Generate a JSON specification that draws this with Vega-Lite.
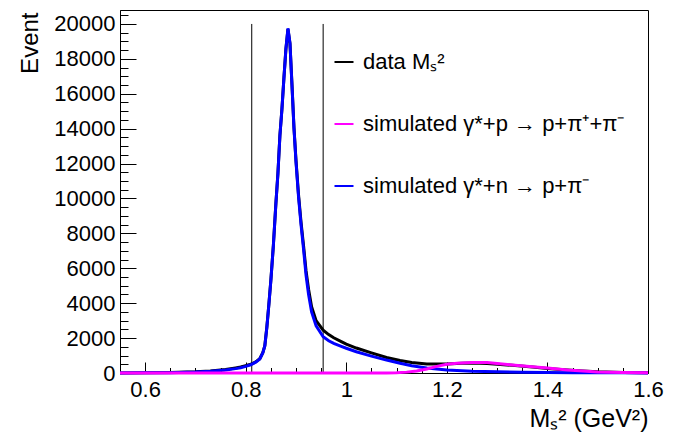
{
  "$schema": "https://vega.github.io/schema/vega-lite/v6.json",
  "width": 528,
  "height": 363,
  "autosize": {"type": "none"},
  "padding": {"left": 120, "top": 10, "right": 42, "bottom": 59},
  "background": "white",
  "config": {
    "view": {"stroke": "black", "strokeWidth": 1},
    "font": "Liberation Sans",
    "axis": {"grid": false, "domainColor": "black", "tickColor": "black", "labelColor": "black", "titleColor": "black", "labelFont": "Liberation Sans", "titleFont": "Liberation Sans", "titleFontWeight": "normal", "labelFlush": false, "labelOverlap": false, "labelBound": false}
  },
  "datasets": {
    "curves": [
      {"s": "data", "x": 0.55, "y": 3}, {"s": "data", "x": 0.6, "y": 10}, {"s": "data", "x": 0.65, "y": 25}, {"s": "data", "x": 0.7, "y": 70},
      {"s": "data", "x": 0.73, "y": 120}, {"s": "data", "x": 0.76, "y": 200}, {"s": "data", "x": 0.78, "y": 290}, {"s": "data", "x": 0.79, "y": 340},
      {"s": "data", "x": 0.8, "y": 420}, {"s": "data", "x": 0.81, "y": 500}, {"s": "data", "x": 0.82, "y": 640}, {"s": "data", "x": 0.828, "y": 820},
      {"s": "data", "x": 0.834, "y": 1170}, {"s": "data", "x": 0.838, "y": 1570}, {"s": "data", "x": 0.842, "y": 2620}, {"s": "data", "x": 0.846, "y": 3920},
      {"s": "data", "x": 0.85, "y": 5320}, {"s": "data", "x": 0.855, "y": 7320}, {"s": "data", "x": 0.86, "y": 9720}, {"s": "data", "x": 0.864, "y": 11420},
      {"s": "data", "x": 0.868, "y": 13620}, {"s": "data", "x": 0.872, "y": 15120}, {"s": "data", "x": 0.876, "y": 16920}, {"s": "data", "x": 0.88, "y": 18580},
      {"s": "data", "x": 0.884, "y": 19700}, {"s": "data", "x": 0.888, "y": 18880}, {"s": "data", "x": 0.892, "y": 16520}, {"s": "data", "x": 0.896, "y": 14050},
      {"s": "data", "x": 0.9, "y": 12180}, {"s": "data", "x": 0.905, "y": 10220}, {"s": "data", "x": 0.91, "y": 8650}, {"s": "data", "x": 0.915, "y": 7300},
      {"s": "data", "x": 0.92, "y": 5850}, {"s": "data", "x": 0.925, "y": 4800}, {"s": "data", "x": 0.931, "y": 3800}, {"s": "data", "x": 0.94, "y": 3000},
      {"s": "data", "x": 0.954, "y": 2450}, {"s": "data", "x": 0.965, "y": 2200}, {"s": "data", "x": 0.975, "y": 2020}, {"s": "data", "x": 0.99, "y": 1800},
      {"s": "data", "x": 1.0, "y": 1650}, {"s": "data", "x": 1.02, "y": 1430}, {"s": "data", "x": 1.05, "y": 1150}, {"s": "data", "x": 1.08, "y": 890},
      {"s": "data", "x": 1.107, "y": 720}, {"s": "data", "x": 1.13, "y": 600}, {"s": "data", "x": 1.16, "y": 515}, {"s": "data", "x": 1.2, "y": 520},
      {"s": "data", "x": 1.23, "y": 560}, {"s": "data", "x": 1.25, "y": 570}, {"s": "data", "x": 1.28, "y": 540}, {"s": "data", "x": 1.3, "y": 500},
      {"s": "data", "x": 1.33, "y": 440}, {"s": "data", "x": 1.37, "y": 340}, {"s": "data", "x": 1.4, "y": 260}, {"s": "data", "x": 1.44, "y": 170},
      {"s": "data", "x": 1.47, "y": 110}, {"s": "data", "x": 1.5, "y": 65}, {"s": "data", "x": 1.55, "y": 30}, {"s": "data", "x": 1.6, "y": 15},

      {"s": "simn", "x": 0.55, "y": 2}, {"s": "simn", "x": 0.6, "y": 8}, {"s": "simn", "x": 0.65, "y": 20}, {"s": "simn", "x": 0.7, "y": 55},
      {"s": "simn", "x": 0.73, "y": 100}, {"s": "simn", "x": 0.76, "y": 170}, {"s": "simn", "x": 0.78, "y": 250}, {"s": "simn", "x": 0.79, "y": 300},
      {"s": "simn", "x": 0.8, "y": 380}, {"s": "simn", "x": 0.81, "y": 470}, {"s": "simn", "x": 0.82, "y": 620}, {"s": "simn", "x": 0.828, "y": 800},
      {"s": "simn", "x": 0.834, "y": 1150}, {"s": "simn", "x": 0.838, "y": 1550}, {"s": "simn", "x": 0.842, "y": 2600}, {"s": "simn", "x": 0.846, "y": 3900},
      {"s": "simn", "x": 0.85, "y": 5300}, {"s": "simn", "x": 0.855, "y": 7300}, {"s": "simn", "x": 0.86, "y": 9700}, {"s": "simn", "x": 0.864, "y": 11400},
      {"s": "simn", "x": 0.868, "y": 13600}, {"s": "simn", "x": 0.872, "y": 15100}, {"s": "simn", "x": 0.876, "y": 16900}, {"s": "simn", "x": 0.88, "y": 18600},
      {"s": "simn", "x": 0.884, "y": 19750}, {"s": "simn", "x": 0.888, "y": 18900}, {"s": "simn", "x": 0.892, "y": 16500}, {"s": "simn", "x": 0.896, "y": 14000},
      {"s": "simn", "x": 0.9, "y": 12100}, {"s": "simn", "x": 0.905, "y": 10100}, {"s": "simn", "x": 0.91, "y": 8500}, {"s": "simn", "x": 0.915, "y": 7100},
      {"s": "simn", "x": 0.92, "y": 5600}, {"s": "simn", "x": 0.925, "y": 4500}, {"s": "simn", "x": 0.931, "y": 3500}, {"s": "simn", "x": 0.94, "y": 2700},
      {"s": "simn", "x": 0.954, "y": 2080}, {"s": "simn", "x": 0.965, "y": 1850}, {"s": "simn", "x": 0.975, "y": 1700}, {"s": "simn", "x": 0.99, "y": 1530},
      {"s": "simn", "x": 1.0, "y": 1420}, {"s": "simn", "x": 1.02, "y": 1220}, {"s": "simn", "x": 1.05, "y": 970}, {"s": "simn", "x": 1.08, "y": 740},
      {"s": "simn", "x": 1.107, "y": 560}, {"s": "simn", "x": 1.13, "y": 420}, {"s": "simn", "x": 1.16, "y": 290}, {"s": "simn", "x": 1.2, "y": 175},
      {"s": "simn", "x": 1.25, "y": 100}, {"s": "simn", "x": 1.3, "y": 65}, {"s": "simn", "x": 1.35, "y": 45}, {"s": "simn", "x": 1.4, "y": 30},
      {"s": "simn", "x": 1.45, "y": 20}, {"s": "simn", "x": 1.5, "y": 12}, {"s": "simn", "x": 1.55, "y": 8}, {"s": "simn", "x": 1.6, "y": 5},

      {"s": "simp", "x": 0.55, "y": 0}, {"s": "simp", "x": 1.0, "y": 0}, {"s": "simp", "x": 1.08, "y": 5}, {"s": "simp", "x": 1.1, "y": 15},
      {"s": "simp", "x": 1.12, "y": 50}, {"s": "simp", "x": 1.14, "y": 120}, {"s": "simp", "x": 1.16, "y": 230}, {"s": "simp", "x": 1.18, "y": 380},
      {"s": "simp", "x": 1.2, "y": 500}, {"s": "simp", "x": 1.22, "y": 560}, {"s": "simp", "x": 1.25, "y": 600}, {"s": "simp", "x": 1.28, "y": 600},
      {"s": "simp", "x": 1.3, "y": 540}, {"s": "simp", "x": 1.33, "y": 460}, {"s": "simp", "x": 1.37, "y": 360}, {"s": "simp", "x": 1.4, "y": 280},
      {"s": "simp", "x": 1.44, "y": 170}, {"s": "simp", "x": 1.47, "y": 110}, {"s": "simp", "x": 1.5, "y": 60}, {"s": "simp", "x": 1.55, "y": 25},
      {"s": "simp", "x": 1.6, "y": 10}
    ],
    "cuts": [{"cut": 0.812, "bottom": 0, "top": 20000}, {"cut": 0.954, "bottom": 0, "top": 20000}]
  },
  "resolve": {"axis": {"x": "independent", "y": "independent"}},
  "layer": [
    {
      "data": {"name": "cuts"},
      "mark": {"type": "rule", "color": "black", "strokeWidth": 1},
      "encoding": {
        "x": {"field": "cut", "type": "quantitative", "scale": {"domain": [0.55, 1.6], "nice": false, "zero": false}, "axis": null},
        "y": {"field": "bottom", "type": "quantitative", "scale": {"domain": [0, 20800], "nice": false}, "axis": null},
        "y2": {"field": "top"}
      }
    },
    {
      "data": {"name": "curves"},
      "transform": [{"filter": "datum.s == 'data'"}],
      "mark": {"type": "line", "strokeWidth": 3},
      "encoding": {
        "x": {"field": "x", "type": "quantitative",
          "axis": {"orient": "bottom", "values": [0.6, 0.8, 1.0, 1.2, 1.4, 1.6], "format": "~g", "ticks": false, "labelPadding": 6, "labelFontSize": 22,
            "title": "Mₛ² (GeV²)", "titleFontSize": 25, "titleAnchor": "end", "titleAlign": "right", "titleBaseline": "alphabetic", "titleX": 528, "titleY": 53}},
        "y": {"field": "y", "type": "quantitative",
          "axis": {"orient": "left", "values": [0, 2000, 4000, 6000, 8000, 10000, 12000, 14000, 16000, 18000, 20000], "format": "d", "ticks": false, "labelPadding": 5, "labelFontSize": 22,
            "title": "Event", "titleFontSize": 24, "titleAnchor": "end", "titleAlign": "right", "titleAngle": -90, "titleBaseline": "alphabetic", "titleX": -83, "titleY": 2}},
        "color": {"field": "s", "type": "nominal",
          "scale": {"domain": ["data", "simp", "simn"], "range": ["#000000", "#ff00ff", "#0000ff"]},
          "legend": {"orient": "none", "legendX": 213, "legendY": 41, "title": null, "padding": 0, "symbolType": "stroke", "symbolSize": 361, "symbolStrokeWidth": 2,
            "labelFontSize": 22, "labelOffset": 8, "rowPadding": 40, "labelColor": "black", "labelFont": "Liberation Sans", "labelLimit": 0,
            "labelExpr": "datum.label == 'data' ? 'data Mₛ²' : datum.label == 'simp' ? 'simulated γ*+p → p+π⁺+π⁻' : 'simulated γ*+n → p+π⁻'"}}
      }
    },
    {
      "data": {"name": "curves"},
      "transform": [{"filter": "datum.s == 'simn'"}],
      "mark": {"type": "line", "strokeWidth": 3},
      "encoding": {
        "x": {"field": "x", "type": "quantitative",
          "axis": {"orient": "top", "offset": -363, "values": [0.6, 0.8, 1.0, 1.2, 1.4, 1.6], "tickSize": 11, "labels": false, "domain": false, "title": null}},
        "y": {"field": "y", "type": "quantitative",
          "axis": {"orient": "right", "offset": -528, "values": [0, 2000, 4000, 6000, 8000, 10000, 12000, 14000, 16000, 18000, 20000], "tickSize": 16, "labels": false, "domain": false, "title": null}},
        "color": {"field": "s", "type": "nominal"}
      }
    },
    {
      "data": {"name": "curves"},
      "transform": [{"filter": "datum.s == 'simp'"}],
      "mark": {"type": "line", "strokeWidth": 3},
      "encoding": {
        "x": {"field": "x", "type": "quantitative",
          "axis": {"orient": "top", "offset": -363, "values": [0.55, 0.65, 0.7, 0.75, 0.85, 0.9, 0.95, 1.05, 1.1, 1.15, 1.25, 1.3, 1.35, 1.45, 1.5, 1.55], "tickSize": 5.5, "labels": false, "domain": false, "title": null}},
        "y": {"field": "y", "type": "quantitative",
          "axis": {"orient": "right", "offset": -528, "values": [500, 1000, 1500, 2500, 3000, 3500, 4500, 5000, 5500, 6500, 7000, 7500, 8500, 9000, 9500, 10500, 11000, 11500, 12500, 13000, 13500, 14500, 15000, 15500, 16500, 17000, 17500, 18500, 19000, 19500, 20500], "tickSize": 8, "labels": false, "domain": false, "title": null}},
        "color": {"field": "s", "type": "nominal"}
      }
    }
  ]
}
